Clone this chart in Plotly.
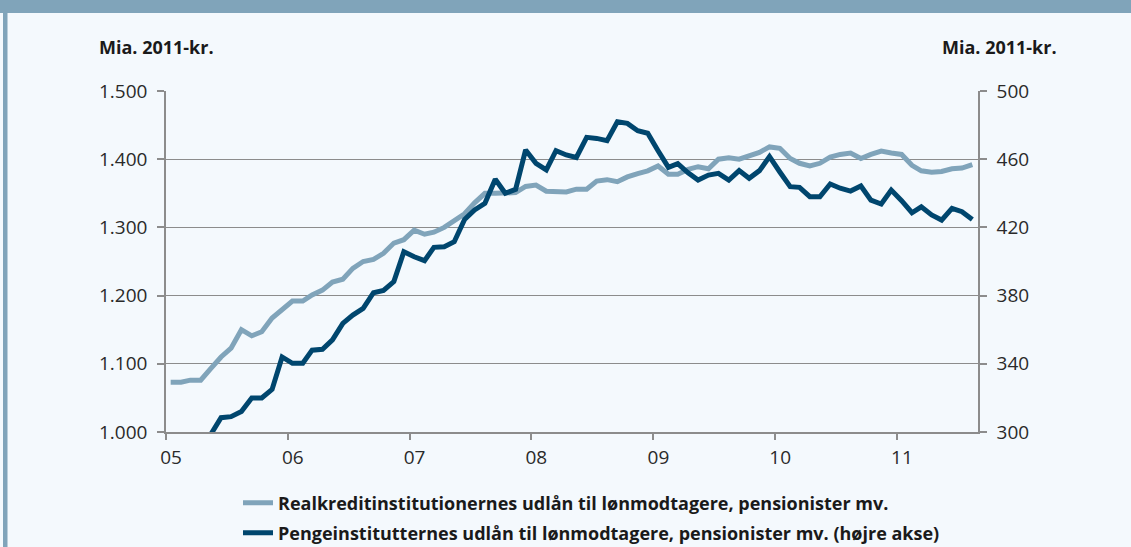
import pandas as pd
import plotly.graph_objects as go

# ---------------- data ----------------
months = pd.date_range("2005-01-01", periods=80, freq="MS") + pd.Timedelta(days=14)

realkredit = [
    1073, 1073, 1076, 1076, 1093, 1110, 1123, 1150, 1141, 1147, 1167, 1179,   # 2005
    1192, 1192, 1201, 1208, 1220, 1224, 1240, 1250, 1253, 1262, 1277, 1282,   # 2006
    1296, 1290, 1293, 1300, 1310, 1320, 1336, 1350, 1350, 1351, 1351, 1360,   # 2007
    1362, 1353, 1352, 1352, 1356, 1356, 1368, 1370, 1367, 1374, 1379, 1383,   # 2008
    1390, 1378, 1378, 1385, 1389, 1386, 1400, 1402, 1400, 1405, 1410, 1418,   # 2009
    1416, 1401, 1394, 1390, 1394, 1403, 1407, 1409, 1401, 1407, 1412, 1409,   # 2010
    1407, 1391, 1383, 1381, 1382, 1386, 1387, 1392,                           # 2011
]

pengeinst = [
    None, None, None, None, 298.5, 308.4, 309.0, 312.0, 320.0, 320.0, 325.0, 344.0,   # 2005
    340.3, 340.3, 348.0, 348.5, 354.0, 363.7, 368.6, 372.5, 381.7, 383.0, 388.2, 405.7,  # 2006
    402.8, 400.5, 408.3, 408.7, 411.6, 424.7, 430.2, 434.1, 448.2, 440.0, 442.3, 465.4,  # 2007
    457.6, 453.7, 465.0, 462.5, 461.0, 472.8, 472.2, 470.9, 482.0, 481.0, 476.7, 475.2,  # 2008
    465.0, 455.2, 457.4, 452.0, 447.8, 450.7, 451.7, 447.8, 453.3, 448.8, 453.3, 461.5,  # 2009
    452.5, 443.9, 443.5, 438.0, 438.0, 445.5, 443.0, 441.3, 444.3, 436.0, 433.7, 441.9,  # 2010
    435.7, 428.6, 432.1, 427.3, 424.3, 431.2, 429.2, 424.7,                              # 2011
]

name_rk = "Realkreditinstitutionernes udlån til lønmodtagere, pensionister mv."
name_pi = "Pengeinstitutternes udlån til lønmodtagere, pensionister mv. (højre akse)"
unit_label = "Mia. 2011-kr."

left_ticks = [1000, 1100, 1200, 1300, 1400, 1500]
right_ticks = [300, 340, 380, 420, 460, 500]

# ---------------- styling ----------------
BG = "#f4f9fd"
LIGHT = "#80a4ba"
DARK = "#00466e"
GRID = "#8c8c8c"
TXT = "#2a2a2a"
TICKFONT = dict(family="Open Sans, Lato, sans-serif", size=19, color=TXT)
LEGFONT = dict(family="Open Sans, sans-serif", size=18, color="#1a1a1a", weight="bold")
LABFONT = dict(family="Open Sans, sans-serif", size=18, color="#1a1a1a", weight="bold")

fig = go.Figure()
fig.add_trace(go.Scatter(
    x=months, y=realkredit, name=name_rk, mode="lines",
    line=dict(color=LIGHT, width=5), legend="legend",
))
fig.add_trace(go.Scatter(
    x=months, y=pengeinst, name=name_pi, mode="lines", yaxis="y2",
    line=dict(color=DARK, width=5), legend="legend2", connectgaps=False,
))

W, H = 1131, 547
L, R, T, B = 166, 153, 91, 115
pw, ph = W - L - R, H - T - B


def px(xp):
    return (xp - L) / pw


def py(yp):
    return (H - B - yp) / ph


fig.update_layout(
    width=W, height=H,
    margin=dict(l=L, r=R, t=T, b=B, pad=0, autoexpand=False),
    paper_bgcolor=BG, plot_bgcolor=BG,
    separators=",.",
    showlegend=True,
    xaxis=dict(
        type="date", range=["2005-01-01", "2011-09-01"],
        tick0="2005-01-01", dtick="M12", tickformat="%y",
        showgrid=False, showline=True, linecolor=GRID, linewidth=1.5,
        ticks="outside", ticklen=6, tickcolor=GRID, tickwidth=1.5,
        tickfont=TICKFONT, ticklabelshift=5, ticklabelstandoff=1,
        zeroline=False, mirror=False, automargin=False,
    ),
    yaxis=dict(
        range=[1000, 1500], tickvals=left_ticks, tickformat=",d",
        showgrid=True, gridcolor=GRID, gridwidth=1.3,
        showline=True, linecolor=GRID, linewidth=1.5,
        ticks="outside", ticklen=7, tickcolor=GRID, tickwidth=1.5,
        tickfont=TICKFONT, ticklabelstandoff=6, zeroline=False, automargin=False,
    ),
    yaxis2=dict(
        range=[300, 500], tickvals=right_ticks, overlaying="y", side="right",
        showgrid=False, showline=True, linecolor=GRID, linewidth=1.5,
        ticks="outside", ticklen=7, tickcolor=GRID, tickwidth=1.5,
        tickfont=TICKFONT, ticklabelstandoff=6, zeroline=False, automargin=False,
    ),
    legend=dict(
        x=px(238), y=py(503), xanchor="left", yanchor="middle",
        bgcolor="rgba(0,0,0,0)", font=LEGFONT, itemwidth=30,
    ),
    legend2=dict(
        x=px(238), y=py(533), xanchor="left", yanchor="middle",
        bgcolor="rgba(0,0,0,0)", font=LEGFONT, itemwidth=30,
    ),
    annotations=[
        dict(text=unit_label, xref="paper", yref="paper", x=px(97), y=py(47),
             xanchor="left", yanchor="middle", showarrow=False, font=LABFONT),
        dict(text=unit_label, xref="paper", yref="paper", x=px(1059), y=py(47),
             xanchor="right", yanchor="middle", showarrow=False, font=LABFONT),
    ],
    shapes=[
        dict(type="rect", xref="paper", yref="paper", x0=px(0), x1=px(W),
             y0=py(13), y1=py(0), fillcolor=LIGHT, line=dict(width=0), layer="above"),
        dict(type="rect", xref="paper", yref="paper", x0=px(3), x1=px(7.5),
             y0=py(H), y1=py(0), fillcolor=LIGHT, line=dict(width=0), layer="above"),
    ],
)

fig.write_html(
    "out.html",
    config={"displayModeBar": False},
    post_script="document.body.style.margin='0';document.body.style.background='%s';" % BG,
)
